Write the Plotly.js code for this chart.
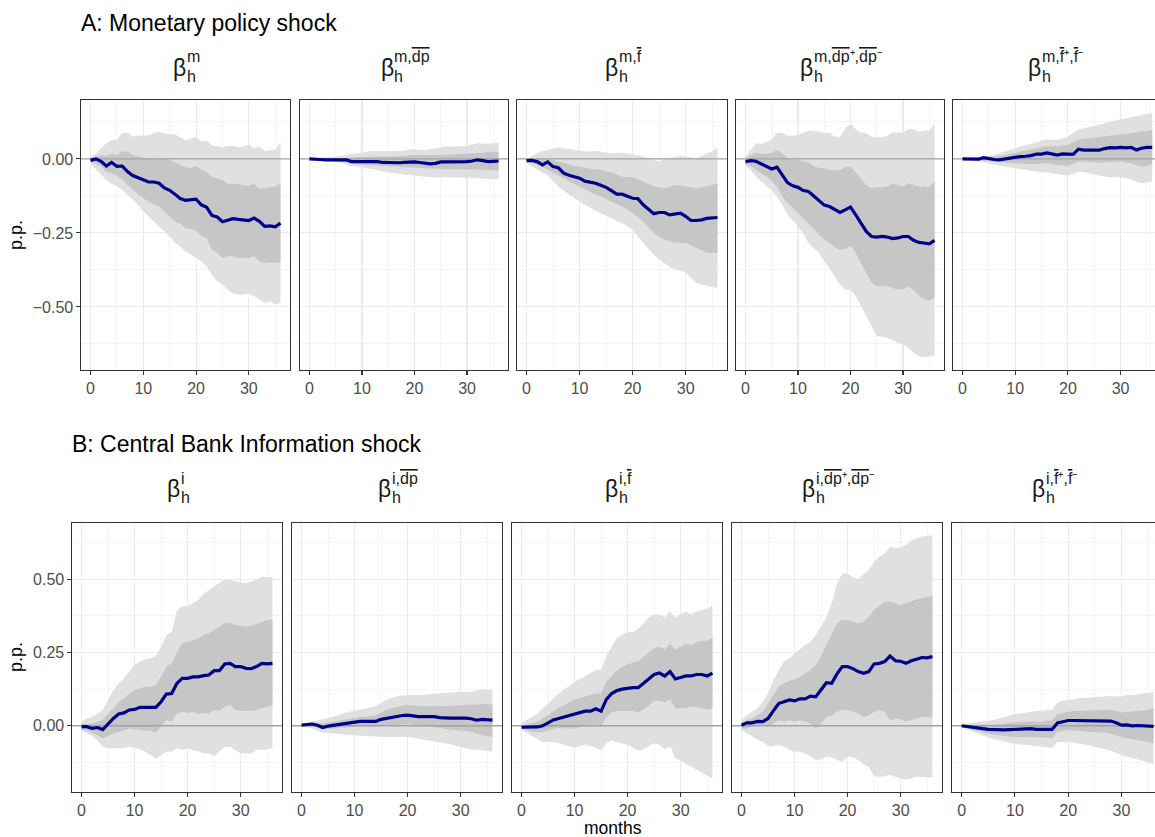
<!DOCTYPE html>
<html><head><meta charset="utf-8">
<script src="https://cdn.plot.ly/plotly-3.0.1.min.js"></script>
<style>html,body{margin:0;padding:0;background:#fff}#chart{width:1155px;height:837px}</style>
</head><body><div id="chart"></div>
<script>
// ---------------- DATA ----------------
const horizons = [0,1,2,3,4,5,6,7,8,9,10,11,12,13,14,15,16,17,18,19,20,21,22,23,24,25,26,27,28,29,30,31,32,33,34,35,36];

const rowTitles = ["A: Monetary policy shock", "B: Central Bank Information shock"];
const xTickVals = [0,10,20,30];
const yTickValsA = [-0.5,-0.25,0];
const yTickValsB = [0,0.25,0.5];
const xLabel = "months";
const yLabel = "p.p.";

// strip label superscripts
const supA = ["m", "m,<span style='text-decoration:overline'>dp</span>", "m,<span style='text-decoration:overline'>f</span>",
  "m,<span style='text-decoration:overline'>dp</span>⁺,<span style='text-decoration:overline'>dp</span>⁻",
  "m,<span style='text-decoration:overline'>f</span>⁺,<span style='text-decoration:overline'>f</span>⁻"];
const supB = ["i", "i,<span style='text-decoration:overline'>dp</span>", "i,<span style='text-decoration:overline'>f</span>",
  "i,<span style='text-decoration:overline'>dp</span>⁺,<span style='text-decoration:overline'>dp</span>⁻",
  "i,<span style='text-decoration:overline'>f</span>⁺,<span style='text-decoration:overline'>f</span>⁻"];

// Panel A1
const A1_line = [-0.005,0.000,-0.008,-0.024,-0.012,-0.025,-0.024,-0.043,-0.056,-0.064,-0.071,-0.078,-0.078,-0.082,-0.098,-0.106,-0.119,-0.134,-0.140,-0.139,-0.136,-0.155,-0.163,-0.191,-0.196,-0.212,-0.206,-0.202,-0.204,-0.207,-0.208,-0.200,-0.211,-0.228,-0.226,-0.229,-0.217];
const A1_hi90 = [0.008,0.017,0.036,0.053,0.064,0.066,0.087,0.089,0.075,0.079,0.078,0.079,0.087,0.092,0.087,0.083,0.083,0.071,0.062,0.069,0.075,0.058,0.062,0.045,0.044,0.039,0.044,0.044,0.039,0.042,0.047,0.035,0.042,0.027,0.030,0.030,0.058];
const A1_hi68 = [0.002,0.008,0.013,0.010,0.017,0.013,0.025,0.025,0.013,0.008,0.004,0.001,-0.001,0.001,0.004,-0.003,-0.012,-0.019,-0.028,-0.031,-0.024,-0.037,-0.043,-0.062,-0.065,-0.071,-0.085,-0.084,-0.085,-0.089,-0.090,-0.084,-0.102,-0.099,-0.097,-0.093,-0.082];
const A1_lo68 = [-0.009,-0.017,-0.026,-0.043,-0.048,-0.057,-0.069,-0.088,-0.104,-0.118,-0.133,-0.144,-0.155,-0.161,-0.178,-0.192,-0.211,-0.219,-0.234,-0.237,-0.243,-0.262,-0.267,-0.307,-0.316,-0.335,-0.329,-0.329,-0.335,-0.335,-0.335,-0.329,-0.346,-0.352,-0.350,-0.352,-0.349];
const A1_lo90 = [-0.017,-0.035,-0.054,-0.071,-0.085,-0.093,-0.104,-0.121,-0.138,-0.155,-0.178,-0.194,-0.211,-0.228,-0.245,-0.262,-0.284,-0.296,-0.312,-0.324,-0.335,-0.346,-0.363,-0.391,-0.413,-0.425,-0.442,-0.455,-0.458,-0.458,-0.455,-0.464,-0.473,-0.487,-0.481,-0.492,-0.487];

// Panel A2
const A2_line = [0.000,0.000,-0.002,-0.003,-0.003,-0.002,-0.001,-0.003,-0.009,-0.009,-0.007,-0.008,-0.007,-0.009,-0.012,-0.013,-0.013,-0.013,-0.012,-0.011,-0.010,-0.012,-0.015,-0.017,-0.015,-0.010,-0.010,-0.010,-0.010,-0.010,-0.009,-0.007,-0.003,-0.006,-0.009,-0.008,-0.007];
const A2_hi90 = [0.000,0.001,0.002,0.003,0.004,0.007,0.010,0.014,0.017,0.019,0.021,0.024,0.027,0.026,0.025,0.026,0.027,0.027,0.028,0.031,0.033,0.031,0.030,0.033,0.036,0.039,0.042,0.042,0.042,0.043,0.044,0.049,0.053,0.052,0.051,0.053,0.055];
const A2_hi68 = [0.000,0.000,0.000,0.001,0.001,0.002,0.002,0.003,0.004,0.006,0.008,0.008,0.008,0.008,0.008,0.009,0.009,0.010,0.010,0.012,0.013,0.013,0.012,0.012,0.012,0.013,0.014,0.015,0.016,0.017,0.018,0.018,0.019,0.021,0.024,0.024,0.024];
const A2_lo68 = [0.000,-0.001,-0.003,-0.004,-0.006,-0.009,-0.011,-0.014,-0.017,-0.018,-0.019,-0.020,-0.022,-0.023,-0.024,-0.025,-0.026,-0.027,-0.028,-0.029,-0.030,-0.032,-0.033,-0.034,-0.035,-0.035,-0.035,-0.035,-0.035,-0.035,-0.035,-0.035,-0.035,-0.036,-0.037,-0.038,-0.039];
const A2_lo90 = [0.000,-0.001,-0.003,-0.005,-0.007,-0.009,-0.012,-0.018,-0.024,-0.026,-0.028,-0.032,-0.035,-0.039,-0.043,-0.046,-0.048,-0.050,-0.052,-0.054,-0.056,-0.059,-0.062,-0.062,-0.062,-0.062,-0.062,-0.062,-0.062,-0.063,-0.064,-0.064,-0.065,-0.067,-0.069,-0.069,-0.069];

// Panel A3
const A3_line = [-0.006,-0.005,-0.009,-0.020,-0.010,-0.026,-0.030,-0.048,-0.055,-0.060,-0.065,-0.075,-0.078,-0.082,-0.089,-0.096,-0.107,-0.119,-0.119,-0.125,-0.133,-0.134,-0.155,-0.170,-0.185,-0.181,-0.181,-0.189,-0.187,-0.183,-0.194,-0.208,-0.208,-0.206,-0.201,-0.200,-0.198];
const A3_hi90 = [0.000,0.010,0.019,0.026,0.030,0.036,0.039,0.036,0.033,0.030,0.028,0.026,0.025,0.027,0.025,0.022,0.019,0.020,0.021,0.018,0.016,0.012,0.008,0.002,-0.003,-0.009,0.000,0.004,0.008,0.010,0.008,0.005,0.002,0.010,0.019,0.025,0.039];
const A3_hi68 = [0.000,0.000,0.000,0.000,0.000,-0.004,-0.009,-0.015,-0.021,-0.024,-0.026,-0.030,-0.033,-0.035,-0.037,-0.042,-0.046,-0.053,-0.060,-0.061,-0.062,-0.069,-0.076,-0.085,-0.093,-0.096,-0.099,-0.094,-0.088,-0.090,-0.093,-0.096,-0.099,-0.096,-0.093,-0.088,-0.082];
const A3_lo68 = [-0.009,-0.014,-0.020,-0.028,-0.037,-0.045,-0.054,-0.065,-0.076,-0.085,-0.093,-0.101,-0.110,-0.119,-0.127,-0.135,-0.144,-0.152,-0.161,-0.171,-0.183,-0.196,-0.211,-0.232,-0.251,-0.263,-0.273,-0.278,-0.282,-0.283,-0.284,-0.292,-0.301,-0.310,-0.318,-0.318,-0.318];
const A3_lo90 = [-0.015,-0.026,-0.037,-0.047,-0.057,-0.075,-0.093,-0.107,-0.121,-0.133,-0.144,-0.155,-0.166,-0.175,-0.183,-0.192,-0.200,-0.208,-0.217,-0.227,-0.239,-0.262,-0.284,-0.305,-0.324,-0.339,-0.352,-0.364,-0.374,-0.379,-0.383,-0.402,-0.419,-0.425,-0.430,-0.433,-0.436];

// Panel A4
const A4_line = [-0.009,-0.006,-0.008,-0.017,-0.026,-0.034,-0.028,-0.054,-0.080,-0.091,-0.096,-0.107,-0.110,-0.125,-0.140,-0.156,-0.161,-0.170,-0.181,-0.172,-0.163,-0.189,-0.217,-0.245,-0.262,-0.264,-0.262,-0.264,-0.269,-0.267,-0.262,-0.262,-0.275,-0.282,-0.284,-0.287,-0.275];
const A4_hi90 = [0.008,0.030,0.053,0.051,0.058,0.064,0.089,0.087,0.078,0.078,0.081,0.089,0.096,0.094,0.092,0.087,0.089,0.075,0.075,0.103,0.118,0.100,0.089,0.087,0.075,0.072,0.073,0.078,0.089,0.089,0.089,0.100,0.100,0.092,0.096,0.096,0.120];
const A4_hi68 = [0.002,0.013,0.021,0.017,0.017,0.021,0.030,0.019,0.002,-0.003,-0.003,-0.009,-0.012,-0.024,-0.031,-0.031,-0.037,-0.039,-0.037,-0.028,-0.026,-0.046,-0.065,-0.088,-0.099,-0.096,-0.096,-0.093,-0.084,-0.088,-0.093,-0.082,-0.088,-0.093,-0.093,-0.096,-0.076];
const A4_lo68 = [-0.017,-0.024,-0.037,-0.048,-0.060,-0.076,-0.093,-0.127,-0.149,-0.166,-0.183,-0.200,-0.217,-0.237,-0.256,-0.273,-0.284,-0.298,-0.307,-0.304,-0.293,-0.318,-0.352,-0.385,-0.419,-0.430,-0.430,-0.430,-0.436,-0.442,-0.439,-0.430,-0.442,-0.462,-0.473,-0.478,-0.470];
const A4_lo90 = [-0.024,-0.037,-0.060,-0.076,-0.093,-0.107,-0.127,-0.155,-0.189,-0.206,-0.228,-0.251,-0.284,-0.301,-0.318,-0.346,-0.369,-0.397,-0.425,-0.442,-0.442,-0.464,-0.497,-0.531,-0.565,-0.598,-0.601,-0.604,-0.611,-0.621,-0.627,-0.638,-0.655,-0.666,-0.669,-0.666,-0.664];

// Panel A5
const A5_line = [0.000,0.000,-0.001,-0.001,0.004,0.000,-0.002,-0.003,0.000,0.003,0.006,0.008,0.009,0.011,0.016,0.016,0.020,0.017,0.013,0.017,0.016,0.015,0.033,0.030,0.030,0.030,0.030,0.035,0.038,0.037,0.039,0.037,0.039,0.030,0.036,0.039,0.039];
const A5_hi90 = [0.000,0.002,0.003,0.005,0.008,0.010,0.013,0.019,0.025,0.031,0.036,0.042,0.047,0.051,0.055,0.061,0.066,0.065,0.064,0.070,0.075,0.088,0.100,0.104,0.107,0.111,0.115,0.121,0.126,0.130,0.134,0.137,0.140,0.144,0.148,0.152,0.156];
const A5_hi68 = [0.000,0.001,0.001,0.003,0.006,0.007,0.008,0.010,0.013,0.017,0.021,0.025,0.028,0.032,0.036,0.040,0.044,0.043,0.042,0.045,0.047,0.057,0.066,0.068,0.070,0.073,0.075,0.077,0.078,0.080,0.081,0.084,0.087,0.090,0.092,0.095,0.098];
const A5_lo68 = [0.000,-0.002,-0.003,-0.005,-0.006,-0.008,-0.009,-0.011,-0.012,-0.014,-0.015,-0.016,-0.017,-0.017,-0.017,-0.016,-0.015,-0.018,-0.020,-0.022,-0.024,-0.016,-0.009,-0.009,-0.009,-0.011,-0.012,-0.011,-0.009,-0.009,-0.009,-0.012,-0.015,-0.021,-0.026,-0.023,-0.020];
const A5_lo90 = [-0.001,-0.003,-0.006,-0.009,-0.012,-0.016,-0.020,-0.023,-0.026,-0.029,-0.031,-0.034,-0.037,-0.040,-0.043,-0.045,-0.046,-0.048,-0.051,-0.054,-0.057,-0.050,-0.043,-0.045,-0.048,-0.053,-0.057,-0.060,-0.062,-0.062,-0.062,-0.066,-0.069,-0.076,-0.082,-0.079,-0.076];

// Panel B1
const B1_line = [-0.003,-0.003,-0.009,-0.006,-0.013,0.008,0.025,0.040,0.044,0.054,0.056,0.063,0.063,0.063,0.063,0.082,0.108,0.110,0.145,0.162,0.162,0.167,0.167,0.171,0.173,0.188,0.188,0.211,0.213,0.202,0.202,0.196,0.195,0.202,0.213,0.211,0.213];
const B1_hi90 = [0.014,0.025,0.031,0.042,0.054,0.088,0.122,0.145,0.162,0.185,0.207,0.219,0.227,0.230,0.238,0.270,0.310,0.321,0.395,0.407,0.409,0.418,0.429,0.450,0.464,0.477,0.489,0.498,0.500,0.492,0.489,0.486,0.492,0.498,0.509,0.507,0.507];
const B1_hi68 = [0.006,0.008,0.008,0.014,0.019,0.042,0.059,0.082,0.093,0.110,0.122,0.128,0.133,0.133,0.139,0.167,0.202,0.213,0.253,0.281,0.287,0.293,0.298,0.310,0.315,0.327,0.338,0.350,0.352,0.344,0.341,0.338,0.341,0.348,0.355,0.361,0.361];
const B1_lo68 = [-0.013,-0.017,-0.024,-0.032,-0.043,-0.035,-0.026,-0.021,-0.015,-0.009,-0.013,-0.013,-0.017,-0.017,-0.024,-0.003,0.019,0.014,0.042,0.048,0.044,0.048,0.040,0.044,0.042,0.054,0.051,0.065,0.071,0.054,0.051,0.051,0.051,0.054,0.059,0.065,0.071];
const B1_lo90 = [-0.017,-0.026,-0.035,-0.049,-0.072,-0.077,-0.077,-0.077,-0.077,-0.072,-0.077,-0.081,-0.089,-0.100,-0.112,-0.100,-0.089,-0.089,-0.077,-0.083,-0.077,-0.083,-0.087,-0.095,-0.095,-0.104,-0.089,-0.072,-0.072,-0.083,-0.095,-0.095,-0.095,-0.083,-0.083,-0.081,-0.077];

// Panel B2
const B2_line = [0.002,0.003,0.006,0.002,-0.006,-0.001,0.002,0.003,0.008,0.011,0.013,0.015,0.015,0.016,0.015,0.022,0.025,0.028,0.033,0.035,0.036,0.033,0.031,0.031,0.031,0.031,0.028,0.026,0.026,0.026,0.027,0.026,0.024,0.019,0.022,0.021,0.019];
const B2_hi90 = [0.006,0.010,0.014,0.018,0.022,0.026,0.031,0.037,0.044,0.048,0.051,0.055,0.059,0.063,0.067,0.078,0.088,0.095,0.101,0.103,0.105,0.105,0.105,0.107,0.108,0.109,0.110,0.112,0.113,0.115,0.116,0.116,0.116,0.120,0.124,0.124,0.124];
const B2_hi68 = [0.003,0.006,0.008,0.008,0.008,0.011,0.014,0.018,0.022,0.025,0.028,0.030,0.031,0.034,0.036,0.045,0.054,0.060,0.065,0.068,0.071,0.069,0.067,0.067,0.067,0.067,0.067,0.067,0.067,0.069,0.071,0.071,0.071,0.073,0.074,0.074,0.073];
const B2_lo68 = [0.000,-0.001,-0.001,-0.007,-0.013,-0.011,-0.009,-0.008,-0.006,-0.005,-0.003,-0.002,-0.001,-0.002,-0.003,-0.002,-0.001,0.001,0.002,0.004,0.006,0.003,-0.001,-0.002,-0.003,-0.006,-0.009,-0.011,-0.013,-0.014,-0.015,-0.018,-0.020,-0.026,-0.032,-0.035,-0.038];
const B2_lo90 = [-0.001,-0.005,-0.009,-0.017,-0.024,-0.025,-0.026,-0.027,-0.028,-0.030,-0.032,-0.034,-0.035,-0.037,-0.038,-0.038,-0.038,-0.038,-0.038,-0.038,-0.038,-0.041,-0.044,-0.048,-0.051,-0.055,-0.058,-0.061,-0.063,-0.068,-0.072,-0.077,-0.081,-0.082,-0.083,-0.086,-0.089];

// Panel B3
const B3_line = [-0.005,-0.005,-0.005,-0.004,0.000,0.010,0.020,0.025,0.030,0.035,0.040,0.045,0.050,0.050,0.058,0.050,0.090,0.110,0.120,0.125,0.128,0.130,0.130,0.145,0.160,0.175,0.180,0.170,0.185,0.160,0.165,0.170,0.170,0.175,0.175,0.170,0.180];
const B3_hi90 = [0.010,0.020,0.030,0.040,0.060,0.075,0.095,0.110,0.125,0.135,0.150,0.160,0.170,0.180,0.190,0.190,0.240,0.270,0.300,0.310,0.320,0.320,0.330,0.350,0.370,0.380,0.380,0.370,0.390,0.370,0.380,0.390,0.380,0.390,0.395,0.400,0.410];
const B3_hi68 = [0.000,0.005,0.010,0.015,0.025,0.035,0.050,0.060,0.070,0.080,0.090,0.095,0.100,0.105,0.110,0.110,0.150,0.170,0.190,0.200,0.210,0.215,0.220,0.235,0.250,0.265,0.270,0.260,0.280,0.260,0.270,0.280,0.275,0.285,0.290,0.290,0.300];
const B3_lo68 = [-0.010,-0.015,-0.020,-0.022,-0.022,-0.015,-0.010,-0.008,-0.008,-0.008,-0.010,-0.005,0.000,0.000,0.005,-0.005,0.030,0.045,0.050,0.050,0.050,0.050,0.045,0.055,0.070,0.085,0.085,0.080,0.090,0.060,0.060,0.060,0.065,0.065,0.060,0.055,0.060];
const B3_lo90 = [-0.015,-0.025,-0.035,-0.045,-0.055,-0.055,-0.055,-0.060,-0.065,-0.070,-0.075,-0.070,-0.065,-0.070,-0.075,-0.085,-0.060,-0.050,-0.055,-0.060,-0.065,-0.075,-0.085,-0.080,-0.070,-0.060,-0.065,-0.080,-0.070,-0.110,-0.120,-0.130,-0.140,-0.150,-0.160,-0.170,-0.180];

// Panel B4
const B4_line = [0.002,0.010,0.010,0.015,0.014,0.025,0.051,0.076,0.082,0.088,0.085,0.092,0.092,0.101,0.099,0.122,0.147,0.145,0.177,0.202,0.202,0.195,0.185,0.179,0.185,0.211,0.213,0.219,0.238,0.222,0.220,0.213,0.222,0.227,0.233,0.232,0.236];
const B4_hi90 = [0.019,0.036,0.048,0.059,0.082,0.110,0.156,0.190,0.219,0.230,0.247,0.261,0.276,0.287,0.310,0.338,0.372,0.418,0.486,0.520,0.520,0.507,0.500,0.515,0.532,0.560,0.577,0.589,0.612,0.606,0.609,0.617,0.632,0.640,0.646,0.648,0.651];
const B4_hi68 = [0.010,0.019,0.025,0.036,0.048,0.076,0.105,0.133,0.145,0.154,0.158,0.167,0.179,0.190,0.207,0.236,0.276,0.315,0.350,0.361,0.361,0.355,0.350,0.355,0.372,0.395,0.409,0.424,0.424,0.418,0.412,0.418,0.424,0.432,0.435,0.438,0.443];
const B4_lo68 = [-0.009,-0.009,-0.003,0.002,0.002,-0.003,0.008,0.019,0.014,0.019,0.014,0.019,0.014,0.008,-0.009,0.008,0.031,0.036,0.048,0.054,0.054,0.048,0.042,0.031,0.036,0.048,0.054,0.048,0.019,0.025,0.022,0.014,0.019,0.025,0.031,0.031,0.028];
const B4_lo90 = [-0.015,-0.026,-0.038,-0.047,-0.055,-0.069,-0.072,-0.066,-0.072,-0.083,-0.089,-0.089,-0.095,-0.106,-0.117,-0.115,-0.106,-0.108,-0.117,-0.123,-0.106,-0.108,-0.117,-0.131,-0.140,-0.172,-0.174,-0.172,-0.168,-0.174,-0.180,-0.183,-0.180,-0.174,-0.176,-0.176,-0.177];

// Panel B5
const B5_line = [0.000,-0.003,-0.005,-0.008,-0.010,-0.012,-0.013,-0.014,-0.014,-0.013,-0.012,-0.012,-0.010,-0.010,-0.012,-0.012,-0.010,-0.012,0.010,0.015,0.018,0.018,0.018,0.018,0.017,0.017,0.018,0.016,0.016,0.010,0.002,0.003,0.000,0.001,0.000,0.000,-0.002];
const B5_hi90 = [0.005,0.008,0.010,0.012,0.015,0.018,0.020,0.025,0.030,0.035,0.040,0.042,0.045,0.048,0.050,0.050,0.055,0.055,0.080,0.085,0.090,0.090,0.095,0.095,0.095,0.098,0.100,0.100,0.102,0.100,0.100,0.105,0.105,0.108,0.110,0.112,0.115];
const B5_hi68 = [0.002,0.002,0.002,0.002,0.002,0.003,0.004,0.005,0.008,0.010,0.012,0.012,0.014,0.015,0.015,0.015,0.018,0.018,0.040,0.045,0.048,0.050,0.050,0.052,0.052,0.053,0.055,0.055,0.055,0.050,0.045,0.047,0.048,0.050,0.052,0.055,0.058];
const B5_lo68 = [-0.003,-0.008,-0.012,-0.018,-0.022,-0.027,-0.030,-0.033,-0.035,-0.037,-0.038,-0.038,-0.038,-0.038,-0.040,-0.040,-0.040,-0.042,-0.020,-0.018,-0.015,-0.015,-0.016,-0.018,-0.020,-0.022,-0.022,-0.025,-0.027,-0.032,-0.040,-0.042,-0.046,-0.050,-0.054,-0.056,-0.060];
const B5_lo90 = [-0.005,-0.012,-0.020,-0.028,-0.035,-0.040,-0.045,-0.050,-0.055,-0.058,-0.062,-0.064,-0.066,-0.068,-0.070,-0.072,-0.073,-0.075,-0.055,-0.055,-0.055,-0.058,-0.060,-0.064,-0.068,-0.072,-0.076,-0.080,-0.085,-0.092,-0.100,-0.105,-0.110,-0.115,-0.120,-0.125,-0.130];

// ---------------- ASSEMBLY ----------------
const panels = [
  {line:A1_line,hi90:A1_hi90,hi68:A1_hi68,lo68:A1_lo68,lo90:A1_lo90,sup:supA[0]},
  {line:A2_line,hi90:A2_hi90,hi68:A2_hi68,lo68:A2_lo68,lo90:A2_lo90,sup:supA[1]},
  {line:A3_line,hi90:A3_hi90,hi68:A3_hi68,lo68:A3_lo68,lo90:A3_lo90,sup:supA[2]},
  {line:A4_line,hi90:A4_hi90,hi68:A4_hi68,lo68:A4_lo68,lo90:A4_lo90,sup:supA[3]},
  {line:A5_line,hi90:A5_hi90,hi68:A5_hi68,lo68:A5_lo68,lo90:A5_lo90,sup:supA[4]},
  {line:B1_line,hi90:B1_hi90,hi68:B1_hi68,lo68:B1_lo68,lo90:B1_lo90,sup:supB[0]},
  {line:B2_line,hi90:B2_hi90,hi68:B2_hi68,lo68:B2_lo68,lo90:B2_lo90,sup:supB[1]},
  {line:B3_line,hi90:B3_hi90,hi68:B3_hi68,lo68:B3_lo68,lo90:B3_lo90,sup:supB[2]},
  {line:B4_line,hi90:B4_hi90,hi68:B4_hi68,lo68:B4_lo68,lo90:B4_lo90,sup:supB[3]},
  {line:B5_line,hi90:B5_hi90,hi68:B5_hi68,lo68:B5_lo68,lo90:B5_lo90,sup:supB[4]}
];

const W = 1155, H = 837;
const FONT = '"Liberation Sans", Arial, sans-serif';
// pixel boxes of the panels (layout)
const boxes = [
  [81,290,100,370],[300,508,100,370],[517,727,100,370],[736,944,100,370],[953,1155,100,370],
  [72,282,523,792],[292,502,523,792],[512,722,523,792],[732,942,523,792],[952,1155,523,792]
];
const yRanges = [[-0.713,0.199],[-0.226,0.692]];
const xLo = -1.8;
const pxPerUnit = [5.27,5.33];

const ctx = document.createElement('canvas').getContext('2d');
function tw(t, size){ ctx.font = size + 'px "Liberation Sans"'; return ctx.measureText(t.replace(/<[^>]+>/g,'')).width; }

const traces = [];
const layout = {
  width: W, height: H, margin:{l:0,r:0,t:0,b:0}, showlegend:false,
  paper_bgcolor:'#fff', plot_bgcolor:'#fff',
  font:{family:FONT, color:'#000'},
  annotations:[], hovermode:false
};

const OUTER = '#E0E0E0', INNER = '#C6C6C6';
const BETA = 23, SCRIPT = 16;
const TICK = 16;

panels.forEach((p,i)=>{
  const row = i < 5 ? 0 : 1, col = i % 5;
  const n = i + 1;
  const xa = 'x' + (n===1?'':n), ya = 'y' + (n===1?'':n);
  const b = boxes[i];
  const xHi = xLo + (b[1]-b[0]) / pxPerUnit[row];
  const last = col === 4;
  const xr = [xLo, last ? xHi : -xLo + horizons[horizons.length-1]];

  const base = {x:horizons, xaxis:xa, yaxis:ya, mode:'lines', hoverinfo:'skip', showlegend:false};
  traces.push(Object.assign({}, base, {y:p.lo90, line:{width:0, color:OUTER}}));
  traces.push(Object.assign({}, base, {y:p.hi90, line:{width:0, color:OUTER}, fill:'tonexty', fillcolor:OUTER}));
  traces.push(Object.assign({}, base, {y:p.lo68, line:{width:0, color:INNER}}));
  traces.push(Object.assign({}, base, {y:p.hi68, line:{width:0, color:INNER}, fill:'tonexty', fillcolor:INNER}));
  traces.push({x:[xr[0]-5, xr[1]+5], y:[0,0], xaxis:xa, yaxis:ya, mode:'lines', hoverinfo:'skip', showlegend:false,
               line:{color:'#A3A3A3', width:1.4}});
  traces.push(Object.assign({}, base, {y:p.line, line:{width:3.2, color:'#00008B'}}));

  const yt = row===0 ? yTickValsA : yTickValsB;
  const yr = yRanges[row];
  const yMinor = row===0 ? [-0.625,-0.375,-0.125,0.125] : [-0.125,0.125,0.375,0.625];
  layout['xaxis' + (n===1?'':n)] = {
    domain:[b[0]/W, b[1]/W], anchor: ya, range: xr, tickvals: xTickVals,
    ticks:'outside', ticklen:3.5, tickwidth:1.1, tickcolor:'#333333',
    tickfont:{size:TICK, color:'#4D4D4D', family:FONT},
    showgrid:true, gridcolor:'#EBEBEB', gridwidth:1.1,
    minor:{tickvals:[5,15,25,35], showgrid:true, gridcolor:'#EBEBEB', gridwidth:0.55, ticks:''},
    showline:true, linecolor:'#333333', linewidth:1.1, mirror:true, zeroline:false, fixedrange:true
  };
  layout['yaxis' + (n===1?'':n)] = {
    domain:[1 - b[3]/H, 1 - b[2]/H], anchor: xa, range: yr, tickvals: yt, tickformat:'.2f',
    ticks: col===0 ? 'outside' : '', ticklen:3.5, tickwidth:1.1, tickcolor:'#333333',
    showticklabels: col===0, tickfont:{size:TICK, color:'#4D4D4D', family:FONT},
    showgrid:true, gridcolor:'#EBEBEB', gridwidth:1.1,
    minor:{tickvals:yMinor, showgrid:true, gridcolor:'#EBEBEB', gridwidth:0.55, ticks:''},
    showline:true, linecolor:'#333333', linewidth:1.1, mirror: !last, zeroline:false, fixedrange:true
  };

  // strip label: beta with stacked sub/superscript
  const cx = (b[0] + b[1]) / 2;
  const wb = tw('β', BETA);
  const ws = Math.max(tw(p.sup, SCRIPT), tw('h', SCRIPT));
  const left = -(wb + ws) / 2;
  const cy = row===0 ? 68 : 489;
  layout.annotations.push({xref:'paper', yref:'paper', x:cx/W, y:1-cy/H, xanchor:'left', yanchor:'middle',
    xshift:left, text:'β', showarrow:false, borderpad:0, font:{size:BETA, family:FONT, color:'#1A1A1A'}});
  layout.annotations.push({xref:'paper', yref:'paper', x:cx/W, y:1-(cy+9)/H, xanchor:'left', yanchor:'middle',
    xshift:left + wb + 0.5, text:'h', showarrow:false, borderpad:0, font:{size:SCRIPT, family:FONT, color:'#1A1A1A'}});
  layout.annotations.push({xref:'paper', yref:'paper', x:cx/W, y:1-(cy-11)/H, xanchor:'left', yanchor:'middle',
    xshift:left + wb + 0.5, text:p.sup, showarrow:false, borderpad:0, font:{size:SCRIPT, family:FONT, color:'#1A1A1A'}});
});

// row titles
layout.annotations.push({xref:'paper', yref:'paper', x:80/W, y:1-23/H, xanchor:'left', yanchor:'middle',
  text:rowTitles[0], showarrow:false, borderpad:0, font:{size:23, family:FONT, color:'#000'}});
layout.annotations.push({xref:'paper', yref:'paper', x:71/W, y:1-444/H, xanchor:'left', yanchor:'middle',
  text:rowTitles[1], showarrow:false, borderpad:0, font:{size:23, family:FONT, color:'#000'}});
// axis titles
[235, 657].forEach(yc=>{
  layout.annotations.push({xref:'paper', yref:'paper', x:16/W, y:1-yc/H, xanchor:'center', yanchor:'middle',
    text:yLabel, textangle:-90, showarrow:false, borderpad:0, font:{size:18, family:FONT, color:'#000'}});
});
layout.annotations.push({xref:'paper', yref:'paper', x:613/W, y:1-828/H, xanchor:'center', yanchor:'middle',
  text:xLabel, showarrow:false, borderpad:0, font:{size:17.5, family:FONT, color:'#000'}});

Plotly.newPlot('chart', traces, layout, {staticPlot:true, displayModeBar:false});
</script>
</body></html>
